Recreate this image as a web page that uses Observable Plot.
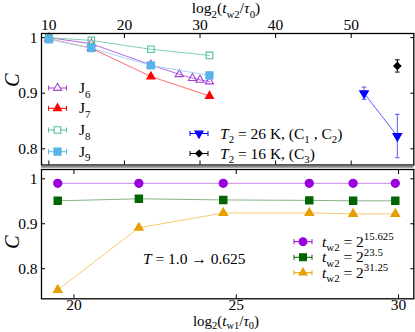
<!DOCTYPE html>
<html><head><meta charset="utf-8">
<script src="https://cdn.jsdelivr.net/npm/d3@7"></script>
<script src="https://cdn.jsdelivr.net/npm/@observablehq/plot@0.6"></script>
<style>
body{margin:0;background:#fff}
#wrap{position:relative;width:415px;height:332px;font-family:"Liberation Serif",serif}
#wrap svg{position:absolute;left:0;overflow:visible}
#wrap text{white-space:pre}
</style></head><body><div id="wrap"></div>
<script>
// ---- data: top panel (C vs log2 tw2) ----
const twTop = [10, 15.625, 23.5, 31.25];
const j6x = [10, 15.625, 23.5, 27.25, 29, 30, 31.25];
const j6c = [1.0, 0.989, 0.951, 0.934, 0.927, 0.924, 0.921];
const j7c = [0.998, 0.981, 0.930, 0.895];
const j8c = [1.0, 0.995, 0.979, 0.968];
const j9c = [0.997, 0.981, 0.950, 0.932];
const exp26x = [51.7, 56.1];
const exp26c = [0.900, 0.823];
const exp26e = [0.011, 0.039];
const exp16x = [56.1];
const exp16c = [0.949];
const exp16e = [0.011];
// ---- data: bottom panel (C vs log2 tw1) ----
const tw1 = [19.5, 22.0, 24.6, 27.25, 28.6, 29.9];
const c15 = [0.990, 0.990, 0.990, 0.990, 0.990, 0.990];
const c23 = [0.951, 0.9555, 0.953, 0.952, 0.951, 0.951];
const c31 = [0.753, 0.891, 0.924, 0.924, 0.922, 0.922];
// ---- ticks ----
const topXTicks = [10, 20, 30, 40, 50];
const topYTicks = [0.8, 0.9, 1];
const botXTicks = [20, 25, 30];
const botYTicks = [0.8, 0.9, 1];

const FONT = '"Liberation Serif", serif';
const FS = 15.5;

const triDown = {draw(ctx, size) {
  const y = -Math.sqrt(size / (Math.sqrt(3) * 3));
  ctx.moveTo(0, -y * 2); ctx.lineTo(Math.sqrt(3) * y, y); ctx.lineTo(-Math.sqrt(3) * y, y); ctx.closePath();
}};
const hline = {draw(ctx, size) { const w = Math.sqrt(size); ctx.moveTo(-w / 2, 0); ctx.lineTo(w / 2, 0); }};

const zip = (xs, ys, es) => xs.map((x, i) => ({x, y: ys[i], e: es ? es[i] : 0}));

const jSeries = [
  {name: "6", xs: j6x, ys: j6c, sym: "triangle", r: 3.0, color: "#a442d8", line: "#b368e2", fill: "none"},
  {name: "7", xs: twTop, ys: j7c, sym: "triangle", r: 3.0, color: "#ff0000", line: "#ff6a6a", fill: "#ff0000"},
  {name: "8", xs: twTop, ys: j8c, sym: "square", r: 3.7, color: "#52c29a", line: "#7fd4b4", fill: "none"},
  {name: "9", xs: twTop, ys: j9c, sym: "square", r: 4.0, color: "#56b4e9", line: "#a6d8f2", fill: "#56b4e9"}
];
const bSeries = [
  {ys: c15, sym: "circle", r: 3.9, color: "#9a00dd", line: "#c986ea", sup: "15.625"},
  {ys: c23, sym: "square", r: 3.9, color: "#006400", line: "#86b486", sup: "23.5"},
  {ys: c31, sym: "triangle", r: 3.0, color: "#e69f00", line: "#f4c970", sup: "31.25"}
];

function axes(xt, yt, xLabels, xPad) {
  return [
    Plot.axisX(xt, {anchor: xLabels, tickSize: 0, tickPadding: xPad, label: null, fontSize: FS}),
    Plot.axisX(xt, {anchor: "top", tickSize: -4, tickFormat: () => "", label: null}),
    Plot.axisX(xt, {anchor: "bottom", tickSize: -4, tickFormat: () => "", label: null}),
    Plot.axisY(yt, {anchor: "left", tickSize: 0, tickPadding: 4, tickFormat: d => String(d), label: null, fontSize: FS}),
    Plot.axisY(yt, {anchor: "left", tickSize: -4, tickFormat: () => "", label: null}),
    Plot.axisY(yt, {anchor: "right", tickSize: -4, tickFormat: () => "", label: null})
  ];
}

const topMarks = [];
for (const s of jSeries) {
  const d = zip(s.xs, s.ys);
  topMarks.push(Plot.line(d, {x: "x", y: "y", stroke: s.line, strokeWidth: 1}));
  topMarks.push(Plot.dot(d, {x: "x", y: "y", symbol: s.sym, r: s.r, fill: s.fill, stroke: s.color, strokeWidth: 1.1}));
}
const e26 = zip(exp26x, exp26c, exp26e), e16 = zip(exp16x, exp16c, exp16e);
for (const [d, col, lc, sym, r] of [[e26, "#0000ff", "#5a5aff", triDown, 3.0], [e16, "#000", "#000", "diamond2", 3.0]]) {
  if (d.length > 1) topMarks.push(Plot.line(d, {x: "x", y: "y", stroke: lc, strokeWidth: 1}));
  topMarks.push(Plot.ruleX(d, {x: "x", y1: v => v.y - v.e, y2: v => v.y + v.e, stroke: lc, strokeWidth: 1}));
  topMarks.push(Plot.dot(d, {x: "x", y: v => v.y - v.e, symbol: hline, r: 2.6, stroke: lc, strokeWidth: 1}));
  topMarks.push(Plot.dot(d, {x: "x", y: v => v.y + v.e, symbol: hline, r: 2.6, stroke: lc, strokeWidth: 1}));
  topMarks.push(Plot.dot(d, {x: "x", y: "y", symbol: sym, r, fill: col, stroke: col}));
}

const topPlot = Plot.plot({
  width: 415, height: 166,
  marginTop: 33, marginBottom: 1.5, marginLeft: 41, marginRight: 1.7,
  x: {domain: [9.03, 58.28]}, y: {domain: [0.7709, 1.0074]},
  style: {fontFamily: FONT, fontSize: FS + "px", color: "#000", background: "transparent", overflow: "visible"},
  marks: [...axes(topXTicks, topYTicks, "top", 4), ...topMarks, Plot.frame({stroke: "#000", strokeWidth: 1.3})]
});

const botMarks = [];
for (const s of bSeries) {
  const d = zip(tw1, s.ys);
  botMarks.push(Plot.line(d, {x: "x", y: "y", stroke: s.line, strokeWidth: 1}));
  botMarks.push(Plot.dot(d, {x: "x", y: "y", symbol: s.sym, r: s.r, fill: s.color, stroke: s.color}));
}
const botPlot = Plot.plot({
  width: 415, height: 166,
  marginTop: 3, marginBottom: 33.7, marginLeft: 41, marginRight: 1.7,
  x: {domain: [19.0, 30.47]}, y: {domain: [0.733, 1.0207]},
  style: {fontFamily: FONT, fontSize: FS + "px", color: "#000", background: "transparent", overflow: "visible"},
  marks: [...axes(botXTicks, botYTicks, "bottom", 0.5), ...botMarks, Plot.frame({stroke: "#000", strokeWidth: 1.3})]
});

const wrap = document.getElementById("wrap");
topPlot.style.top = "0px"; botPlot.style.top = "166px";
wrap.appendChild(topPlot); wrap.appendChild(botPlot);

// rich text helper
function rich(svg, x, y, parts, {fs = FS, anchor = "start", rotate = null, subShift = 0.3} = {}) {
  const t = svg.append("text").attr("x", x).attr("y", y).attr("font-size", fs)
    .attr("font-family", FONT).attr("text-anchor", anchor).attr("fill", "#000");
  if (rotate != null) t.attr("transform", `rotate(${rotate},${x},${y})`);
  let shift = 0;
  for (const p of parts) {
    const target = p.sub ? subShift * fs : p.sup ? -0.42 * fs : 0;
    const tsp = t.append("tspan").text(p.t).attr("dy", target - shift);
    shift = target;
    if (p.sub || p.sup) tsp.attr("font-size", fs * 0.7);
    if (p.it) tsp.attr("font-style", "italic");
  }
  return t;
}
function handle(svg, x, y, color, symType, size, fill, rot = 0) {
  const g = svg.append("g").attr("stroke", color).attr("stroke-width", 1);
  g.append("line").attr("x1", x - 9).attr("x2", x + 9).attr("y1", y).attr("y2", y);
  g.append("line").attr("x1", x - 9).attr("x2", x - 9).attr("y1", y - 2.5).attr("y2", y + 2.5);
  g.append("line").attr("x1", x + 9).attr("x2", x + 9).attr("y1", y - 2.5).attr("y2", y + 2.5);
  g.append("path").attr("d", d3.symbol(symType, size)()).attr("fill", fill)
    .attr("transform", `translate(${x},${y}) rotate(${rot})`).attr("stroke-width", 1.1);
}

const tS = d3.select(topPlot), bS = d3.select(botPlot);
// axis labels
rich(tS, 226, 13, [{t: "log"}, {t: "2", sub: true}, {t: "("}, {t: "t", it: true}, {t: "w2", sub: true}, {t: "/"}, {t: "τ", it: true}, {t: "0", sub: true}, {t: ")"}], {anchor: "middle"});
rich(bS, 226, 159.6, [{t: "log"}, {t: "2", sub: true}, {t: "("}, {t: "t", it: true}, {t: "w1", sub: true}, {t: "/"}, {t: "τ", it: true}, {t: "0", sub: true}, {t: ")"}], {anchor: "middle", fs: 15, subShift: 0.2});
rich(tS, 19, 80, [{t: "C", it: true}], {fs: 20, anchor: "middle", rotate: -90});
rich(bS, 19, 76, [{t: "C", it: true}], {fs: 20, anchor: "middle", rotate: -90});

// seam
tS.append("line").attr("x1", 41).attr("x2", 413.3).attr("y1", 166.8).attr("y2", 166.8).attr("stroke", "#888").attr("stroke-width", 2);

// top legend J
const jRows = [88, 108.3, 130, 151.7];
const symMap = {triangle: d3.symbolTriangle, square: d3.symbolSquare};
jSeries.forEach((s, i) => {
  const y = jRows[i];
  handle(tS, 57.5, y, s.color, symMap[s.sym], Math.PI * s.r * s.r, s.fill === "none" ? "#fff" : s.fill);
  rich(tS, 79, y + 5, [{t: "J"}, {t: s.name, sub: true}]);
});
// top legend T2
handle(tS, 199, 133.5, "#0000ff", d3.symbolTriangle, Math.PI * 3.0 * 3.0, "#0000ff", 180);
rich(tS, 220, 138.5, [{t: "T", it: true}, {t: "2", sub: true}, {t: " = 26 K, (C"}, {t: "1", sub: true}, {t: " , C"}, {t: "2", sub: true}, {t: ")"}]);
handle(tS, 199, 153.5, "#000", d3.symbolDiamond2, Math.PI * 3.0 * 3.0, "#000");
rich(tS, 220, 158.5, [{t: "T", it: true}, {t: "2", sub: true}, {t: " = 16 K, (C"}, {t: "3", sub: true}, {t: ")"}]);

// bottom legend
const bRows = [75.7, 91.3, 106.7];
const bSym = {circle: d3.symbolCircle, square: d3.symbolSquare, triangle: d3.symbolTriangle};
bSeries.forEach((s, i) => {
  const y = bRows[i];
  handle(bS, 303, y, s.color, bSym[s.sym], Math.PI * s.r * s.r, s.color);
  rich(bS, 322, y + 5, [{t: "t", it: true}, {t: "w2", sub: true}, {t: " = 2"}, {t: s.sup, sup: true}]);
});
// annotation
rich(bS, 143, 98, [{t: "T", it: true}, {t: " = 1.0 → 0.625"}]);
</script></body></html>
